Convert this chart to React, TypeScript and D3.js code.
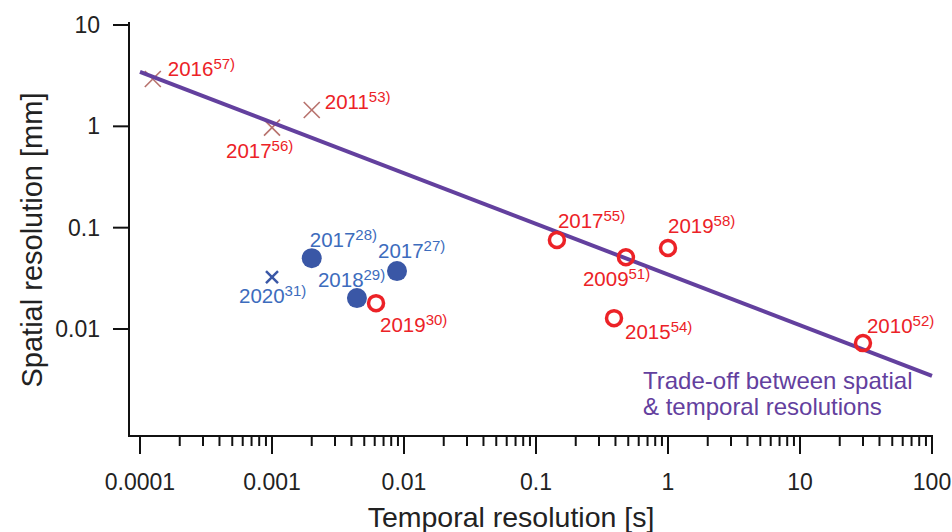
import React from "react";
import * as d3 from "d3";

// ---- data ----
const crossYears = ["2016", "2017", "2011"];
const crossRefs = ["57)", "56)", "53)"];
const crossTemporal = [0.000125, 0.001, 0.002];
const crossSpatial = [2.93, 0.97, 1.45];

const blueCrossYears = ["2020"];
const blueCrossRefs = ["31)"];
const blueCrossTemporal = [0.001];
const blueCrossSpatial = [0.0325];

const blueDotYears = ["2017", "2017", "2018"];
const blueDotRefs = ["28)", "27)", "29)"];
const blueDotTemporal = [0.002, 0.00885, 0.0044];
const blueDotSpatial = [0.05, 0.0373, 0.0202];

const redCircleYears = ["2019", "2017", "2009", "2019", "2015", "2010"];
const redCircleRefs = ["30)", "55)", "51)", "58)", "54)", "52)"];
const redCircleTemporal = [0.00614, 0.144, 0.48, 1.0, 0.39, 30];
const redCircleSpatial = [0.018, 0.0755, 0.051, 0.063, 0.0128, 0.00726];

const trendTemporal = [0.0001, 100];
const trendCoef = 0.0345; // spatial = coef * temporal^-0.5
const trendExp = -0.5;

const xTickValues = [0.0001, 0.001, 0.01, 0.1, 1, 10, 100];
const xTickLabels = ["0.0001", "0.001", "0.01", "0.1", "1", "10", "100"];
const yTickValues = [10, 1, 0.1, 0.01];
const yTickLabels = ["10", "1", "0.1", "0.01"];

const xTitle = "Temporal resolution [s]";
const yTitle = "Spatial resolution [mm]";
const legendLines = ["Trade-off between spatial", "& temporal resolutions"];

// label offsets (layout only)
const crossLabelOff = [[15, -3], [-46, 30], [13, -1]];
const blueCrossLabelOff = [[-33, 26]];
const blueDotLabelOff = [[-2, -11], [-19, -13], [-39, -11]];
const redCircleLabelOff = [[4, 29], [1, -12], [-43, 29], [0, -15], [11, 21], [4, -10]];

const FONT = "'Liberation Sans', Arial, Helvetica, sans-serif";
const RED = "#ec2227";
const BLUE_LBL = "#3d6cbd";
const BLUE_PT = "#3a57a6";
const CROSS_C = "#b7716c";
const PURPLE = "#63409e";
const AXIS = "#111";
const TXT = "#222";

export default function App() {
  const x = d3.scaleLog().domain([1e-4, 100]).range([140, 932]);
  const y = d3.scaleLog().domain([10, 0.01]).range([25, 329]);

  const minorX: number[] = [];
  for (let d = -4; d < 2; d++) {
    for (let k = 2; k <= 9; k++) minorX.push(k * Math.pow(10, d));
  }

  const line = d3
    .line<number>()
    .x((t) => x(t))
    .y((t) => y(trendCoef * Math.pow(t, trendExp)));

  const label = (
    px: number,
    py: number,
    off: number[],
    year: string,
    ref: string,
    color: string,
    key: string
  ) => (
    <text key={key} x={px + off[0]} y={py + off[1]} fill={color} fontSize={20.5} fontFamily={FONT}>
      {year}
      <tspan fontSize={15} dy={-7}>
        {ref}
      </tspan>
    </text>
  );

  const axisX0 = 129;
  const axisY1 = 436;

  return (
    <svg
      width={952}
      height={532}
      style={{ position: "absolute", left: 0, top: 0, background: "#fff" }}
    >
      <rect width={952} height={532} fill="#fff" />
      {/* axes lines */}
      <line x1={axisX0} y1={22} x2={axisX0} y2={axisY1} stroke={AXIS} strokeWidth={2} />
      <line x1={axisX0 - 1} y1={axisY1} x2={933} y2={axisY1} stroke={AXIS} strokeWidth={2} />
      {/* y ticks */}
      {yTickValues.map((v, i) => (
        <g key={"yt" + i}>
          <line x1={113} x2={axisX0} y1={y(v)} y2={y(v)} stroke={AXIS} strokeWidth={2} />
          <text
            x={100}
            y={y(v) + 8}
            textAnchor="end"
            fontSize={23}
            fontFamily={FONT}
            fill={TXT}
          >
            {yTickLabels[i]}
          </text>
        </g>
      ))}
      {/* x ticks */}
      {minorX.map((v, i) => (
        <line key={"xm" + i} x1={x(v)} x2={x(v)} y1={axisY1} y2={446} stroke={AXIS} strokeWidth={2} />
      ))}
      {xTickValues.map((v, i) => (
        <g key={"xt" + i}>
          <line x1={x(v)} x2={x(v)} y1={axisY1} y2={454} stroke={AXIS} strokeWidth={2} />
          <text x={x(v)} y={490} textAnchor="middle" fontSize={23} fontFamily={FONT} fill={TXT}>
            {xTickLabels[i]}
          </text>
        </g>
      ))}
      {/* titles */}
      <text x={511} y={527} textAnchor="middle" fontSize={28.5} fontFamily={FONT} fill={TXT}>
        {xTitle}
      </text>
      <text
        transform="translate(42,240) rotate(-90)"
        textAnchor="middle"
        fontSize={29}
        fontFamily={FONT}
        fill={TXT}
      >
        {yTitle}
      </text>

      {/* crosses (brown) */}
      {crossTemporal.map((t, i) => {
        const cx = x(t);
        const cy = y(crossSpatial[i]);
        const s = 8;
        return (
          <g key={"c" + i} stroke={CROSS_C} strokeWidth={1.6}>
            <line x1={cx - s} y1={cy - s} x2={cx + s} y2={cy + s} />
            <line x1={cx - s} y1={cy + s} x2={cx + s} y2={cy - s} />
          </g>
        );
      })}

      {/* trend line */}
      <path d={line(trendTemporal) || ""} stroke={PURPLE} strokeWidth={4} fill="none" />

      {/* blue cross */}
      {blueCrossTemporal.map((t, i) => {
        const cx = x(t);
        const cy = y(blueCrossSpatial[i]);
        const s = 6;
        return (
          <g key={"bc" + i} stroke={BLUE_PT} strokeWidth={2.4}>
            <line x1={cx - s} y1={cy - s} x2={cx + s} y2={cy + s} />
            <line x1={cx - s} y1={cy + s} x2={cx + s} y2={cy - s} />
          </g>
        );
      })}

      {/* blue dots */}
      {blueDotTemporal.map((t, i) => (
        <circle key={"bd" + i} cx={x(t)} cy={y(blueDotSpatial[i])} r={10} fill={BLUE_PT} />
      ))}

      {/* red open circles */}
      {redCircleTemporal.map((t, i) => (
        <circle
          key={"rc" + i}
          cx={x(t)}
          cy={y(redCircleSpatial[i])}
          r={7.5}
          fill="none"
          stroke={RED}
          strokeWidth={3.5}
        />
      ))}

      {/* labels */}
      {crossTemporal.map((t, i) =>
        label(x(t), y(crossSpatial[i]), crossLabelOff[i], crossYears[i], crossRefs[i], RED, "cl" + i)
      )}
      {blueCrossTemporal.map((t, i) =>
        label(
          x(t),
          y(blueCrossSpatial[i]),
          blueCrossLabelOff[i],
          blueCrossYears[i],
          blueCrossRefs[i],
          BLUE_LBL,
          "bcl" + i
        )
      )}
      {blueDotTemporal.map((t, i) =>
        label(
          x(t),
          y(blueDotSpatial[i]),
          blueDotLabelOff[i],
          blueDotYears[i],
          blueDotRefs[i],
          BLUE_LBL,
          "bdl" + i
        )
      )}
      {redCircleTemporal.map((t, i) =>
        label(
          x(t),
          y(redCircleSpatial[i]),
          redCircleLabelOff[i],
          redCircleYears[i],
          redCircleRefs[i],
          RED,
          "rcl" + i
        )
      )}

      {/* legend text */}
      {legendLines.map((s, i) => (
        <text key={"lg" + i} x={643} y={389 + i * 26} fontSize={24} fontFamily={FONT} fill={PURPLE}>
          {s}
        </text>
      ))}
    </svg>
  );
}
